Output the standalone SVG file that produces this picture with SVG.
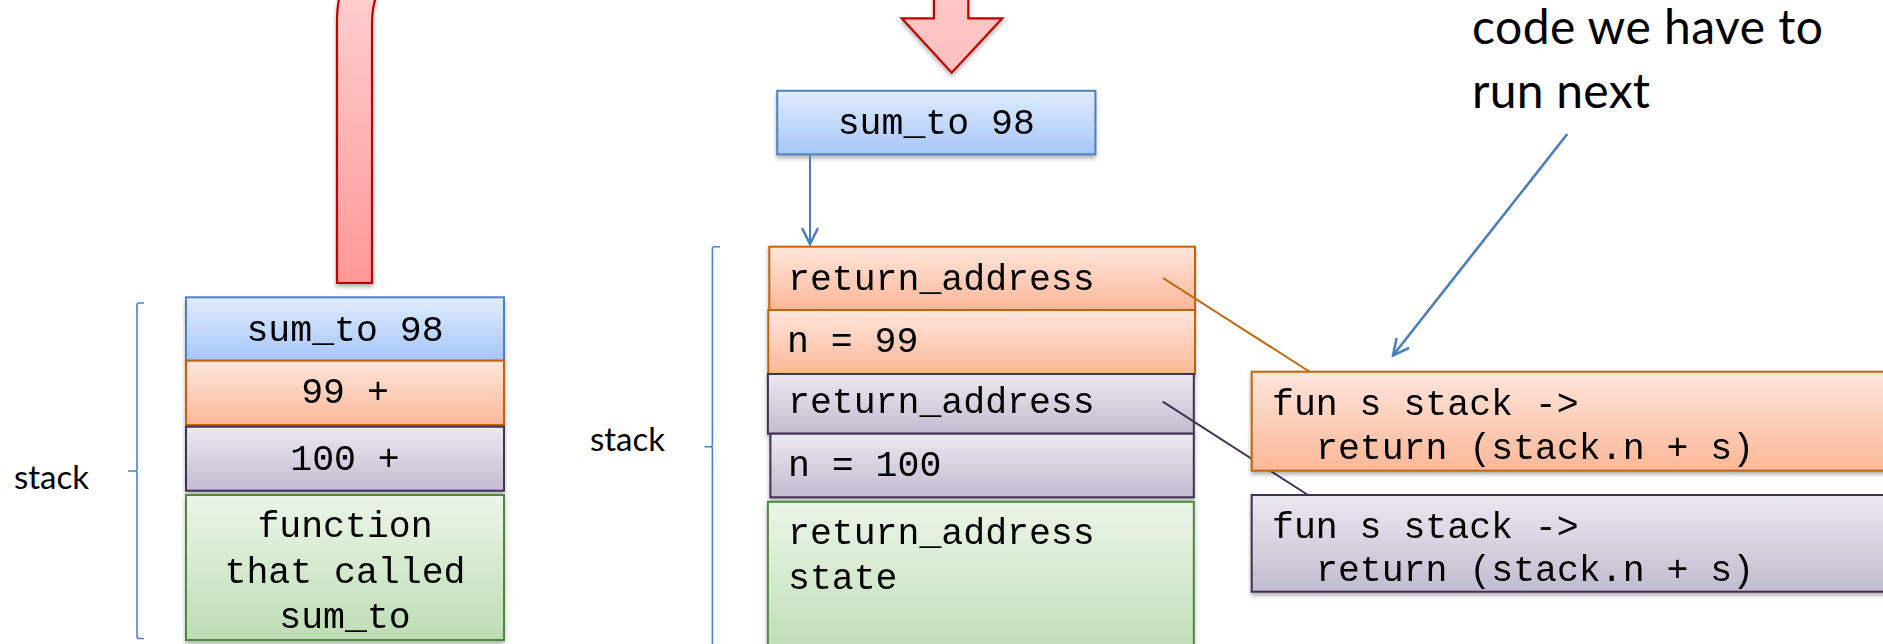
<svg xmlns="http://www.w3.org/2000/svg" width="1883" height="644" viewBox="0 0 1883 644">
  <defs>
    <linearGradient id="gBlue" x1="0" y1="0" x2="0" y2="1">
      <stop offset="0" stop-color="#E1ECFE"/>
      <stop offset="1" stop-color="#A6C6FA"/>
    </linearGradient>
    <linearGradient id="gOrange" x1="0" y1="0" x2="0" y2="1">
      <stop offset="0" stop-color="#FEE6DD"/>
      <stop offset="1" stop-color="#FBB797"/>
    </linearGradient>
    <linearGradient id="gPurple" x1="0" y1="0" x2="0" y2="1">
      <stop offset="0" stop-color="#EBE9F0"/>
      <stop offset="1" stop-color="#C3BBD0"/>
    </linearGradient>
    <linearGradient id="gGreen" x1="0" y1="0" x2="0" y2="1">
      <stop offset="0" stop-color="#ECF5E8"/>
      <stop offset="1" stop-color="#BDDDB4"/>
    </linearGradient>
    <linearGradient id="gGreenTall" gradientUnits="userSpaceOnUse" x1="0" y1="502" x2="0" y2="660">
      <stop offset="0" stop-color="#ECF5E8"/>
      <stop offset="1" stop-color="#BDDDB4"/>
    </linearGradient>
    <linearGradient id="gRedBar" x1="0" y1="0" x2="0" y2="1">
      <stop offset="0" stop-color="#FFCDCD"/>
      <stop offset="1" stop-color="#FF9898"/>
    </linearGradient>
    <linearGradient id="gRedHead" x1="0" y1="0" x2="0" y2="1">
      <stop offset="0" stop-color="#FFC6C6"/>
      <stop offset="1" stop-color="#FFC0C0"/>
    </linearGradient>
    <filter id="shadow" x="-10%" y="-20%" width="120%" height="150%">
      <feDropShadow dx="0" dy="3" stdDeviation="2.2" flood-color="#000" flood-opacity="0.3"/>
    </filter>
    <marker id="openArrow" viewBox="0 0 20 20" refX="18" refY="10" markerWidth="20" markerHeight="20" markerUnits="userSpaceOnUse" orient="auto">
      <path d="M2,2 L18,10 L2,18" fill="none" stroke="#4A7EBB" stroke-width="2.5"/>
    </marker>
  </defs>
  <style>
    .mono { font-family: 'Courier New', 'Liberation Mono', monospace; font-size: 36.5px; fill: #000; }
    .mid { text-anchor: middle; }
    .label { font-family: Lato, 'Open Sans', 'Liberation Sans', sans-serif; fill: #000; }
    .blue { fill: url(#gBlue); stroke: #4F81BD; stroke-width: 2; }
    .orange { fill: url(#gOrange); stroke: #C0640E; stroke-width: 2; }
    .purple { fill: url(#gPurple); stroke: #403152; stroke-width: 2; }
    .green { fill: url(#gGreen); stroke: #4E8A3C; stroke-width: 2; }
    .brace { fill: none; stroke: #4F81BD; stroke-width: 1.6; }
    .red { stroke: #C00000; stroke-width: 2.2; stroke-linejoin: miter; }
  </style>

  <rect width="1883" height="644" fill="#FFFFFF"/>

  <!-- left: curved return arrow coming down onto the stack -->
  <g id="left-return-arrow" filter="url(#shadow)">
    <path class="red" fill="url(#gRedBar)" d="M337,283 V22 Q337,7 339.5,-3 H376 Q372,8 372,24 V283 Z"/>
  </g>

  <!-- left stack bracket and label -->
  <g id="left-stack-label">
    <path class="brace" d="M144,303 H139 Q137,303 137,305 V469 Q137,471 135,471 H128 M135,471 Q137,471 137,473 V636 Q137,638.5 139,638.5 H144"/>
    <text class="label" x="14" y="489" font-size="33">stack</text>
  </g>

  <!-- left stack frames -->
  <g id="left-sum-to" filter="url(#shadow)">
    <rect class="blue" x="186" y="297.3" width="318" height="63.4"/>
    <text class="mono mid" x="345" y="340.7">sum_to 98</text>
  </g>
  <g id="left-99" filter="url(#shadow)">
    <rect class="orange" x="186" y="360.7" width="318" height="64.3"/>
    <text class="mono mid" x="345" y="403.3">99 +</text>
  </g>
  <g id="left-100" filter="url(#shadow)">
    <rect class="purple" x="186" y="426.7" width="318" height="64"/>
    <text class="mono mid" x="345" y="470">100 +</text>
  </g>
  <g id="left-caller" filter="url(#shadow)">
    <rect class="green" x="186" y="495" width="318" height="145"/>
    <text class="mono mid" x="345" y="537.3">function</text>
    <text class="mono mid" x="345" y="582.7">that called</text>
    <text class="mono mid" x="345" y="628.3">sum_to</text>
  </g>

  <!-- middle: down arrow into the next call -->
  <g id="down-arrow" filter="url(#shadow)">
    <path class="red" fill="url(#gRedHead)" d="M934,-5 H968.3 V18.3 H1002.3 L951.7,72.7 L901.7,18.3 H934 Z"/>
  </g>

  <g id="call-sum-to" filter="url(#shadow)">
    <rect class="blue" x="777.2" y="90.8" width="318.2" height="63.6"/>
    <text class="mono mid" x="936.3" y="133.9">sum_to 98</text>
  </g>

  <!-- right stack bracket and label -->
  <g id="right-stack-label">
    <path class="brace" d="M720,246.8 H714.4 Q712.4,246.8 712.4,248.8 V444.8 Q712.4,446.8 710.4,446.8 H704.4 M710.4,446.8 Q712.4,446.8 712.4,448.8 V650"/>
    <text class="label" x="590" y="451" font-size="33">stack</text>
  </g>

  <!-- right stack frames -->
  <g id="frame99-return" filter="url(#shadow)">
    <rect class="orange" x="769.3" y="246.7" width="425.7" height="63.3"/>
    <text class="mono" x="788" y="290">return_address</text>
  </g>
  <g id="frame99-n" filter="url(#shadow)">
    <rect class="orange" x="768.3" y="310" width="426.7" height="64"/>
    <text class="mono" x="787" y="352">n = 99</text>
  </g>
  <g id="frame100-return" filter="url(#shadow)">
    <rect class="purple" x="767.9" y="374" width="425.9" height="59.7"/>
    <text class="mono" x="788" y="412.7">return_address</text>
  </g>
  <g id="frame100-n" filter="url(#shadow)">
    <rect class="purple" x="770.4" y="433.7" width="423.4" height="63.6"/>
    <text class="mono" x="788" y="476.4">n = 100</text>
  </g>
  <g id="caller-frame" filter="url(#shadow)">
    <rect x="767.9" y="501.8" width="425.9" height="160" fill="url(#gGreenTall)" stroke="#4E8A3C" stroke-width="2"/>
    <text class="mono" x="788" y="544">return_address</text>
    <text class="mono" x="788" y="589.3">state</text>
  </g>

  <!-- connectors -->
  <g id="connectors" fill="none">
    <line x1="810" y1="155.4" x2="810" y2="244" stroke="#4A7EBB" stroke-width="2" marker-end="url(#openArrow)"/>
    <line x1="1163" y1="278" x2="1310" y2="372" stroke="#C0640E" stroke-width="2"/>
    <line x1="1162.7" y1="401.7" x2="1308" y2="495" stroke="#403152" stroke-width="2"/>
    <line x1="1567.3" y1="134" x2="1393" y2="355.5" stroke="#4A7EBB" stroke-width="2.6" marker-end="url(#openArrow)"/>
  </g>

  <!-- code blocks the return addresses point at -->
  <g id="code-99" filter="url(#shadow)">
    <rect class="orange" x="1251.7" y="371.7" width="660" height="99"/>
    <text class="mono" x="1272" y="415">fun s stack -&gt;</text>
    <text class="mono" x="1316" y="458.5">return (stack.n + s)</text>
  </g>
  <g id="code-100" filter="url(#shadow)">
    <rect class="purple" x="1251.7" y="495" width="660" height="96.7"/>
    <text class="mono" x="1272" y="537.5">fun s stack -&gt;</text>
    <text class="mono" x="1316" y="581">return (stack.n + s)</text>
  </g>

  <!-- annotation -->
  <g id="note">
    <text class="label" x="1472" y="44" font-size="48" textLength="351">code we have to</text>
    <text class="label" x="1472" y="108" font-size="48" textLength="178">run next</text>
  </g>
</svg>
